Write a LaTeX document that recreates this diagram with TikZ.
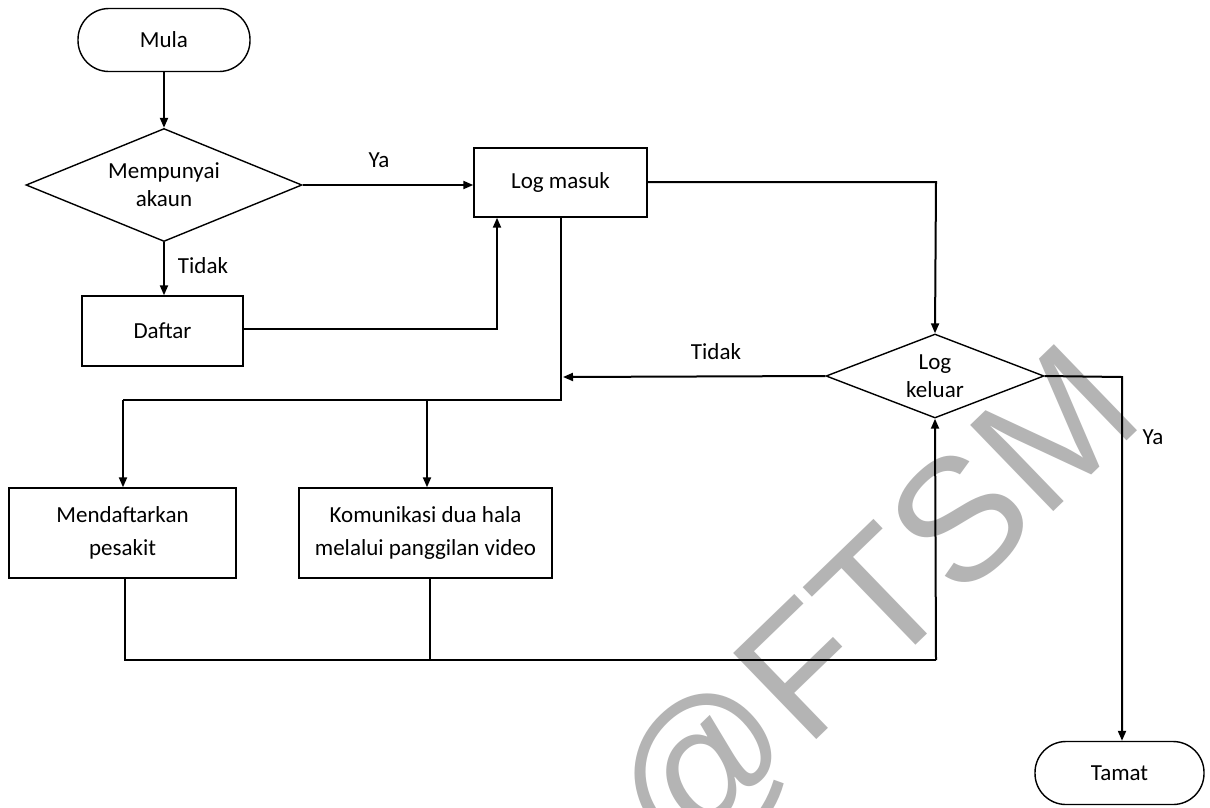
\documentclass[tikz,border=0pt]{standalone}
\usepackage{fontspec}
\setmainfont{Carlito}
\newfontfamily\wmfont{Liberation Sans}
\usetikzlibrary{shapes.geometric,arrows.meta}
\definecolor{wmgray}{RGB}{180,180,180}
\begin{document}
\begin{tikzpicture}[x=1pt,y=-1pt,
  every node/.style={font=\fontsize{23}{28}\selectfont},
  term/.style={draw,line width=1.4pt,rounded corners=31pt,minimum width=#1,minimum height=63pt,inner sep=0pt},
  procbox/.style={draw,line width=1.4pt,inner sep=0pt,align=center,font=\fontsize{23}{33}\selectfont},
  decision/.style={draw,diamond,line width=1.4pt,inner sep=0pt,align=center,aspect=2.5},
  conn/.style={line width=2pt},
  arr/.style={conn,-{Triangle[length=10pt,width=8pt]}},
  lbl/.style={inner sep=0pt}
]
\useasboundingbox (0,0) rectangle (1210,807);
\fill[white] (0,0) rectangle (1210,807);
% watermark
\node[rotate=44,text=wmgray,inner sep=0pt,font=\wmfont\fontsize{174}{174}\selectfont] (wm) at (878,610) {@FTSM};

% nodes
\node[term=172pt] (mula) at (164,40) {Mula};
\node[decision,minimum width=276pt,minimum height=113pt] (dia1) at (164,185) {Mempunyai\\akaun};
\node[procbox,minimum width=173pt,minimum height=69pt] (login) at (560.5,182.5) {Log masuk};
\node[procbox,minimum width=161pt,minimum height=70pt] (daftar) at (162.5,331) {Daftar};
\node[decision,minimum width=218pt,minimum height=84pt] (logout) at (935,376) {Log\\keluar};
\node[procbox,minimum width=227pt,minimum height=90pt] (mend) at (122.5,533) {Mendaftarkan\\pesakit};
\node[procbox,minimum width=253pt,minimum height=90pt] (kom) at (425.5,533) {Komunikasi dua hala\\melalui panggilan video};
\node[term=169pt] (tamat) at (1119.5,773) {Tamat};

% labels
\node[lbl] (lya1) at (379,160) {Ya};
\node[lbl] (ltidak1) at (203,266) {Tidak};
\node[lbl] (ltidak2) at (716,352) {Tidak};
\node[lbl] (lya2) at (1153,437) {Ya};

% coordinates
\coordinate (dj) at (497,329);
\coordinate (ls) at (561,400);
\coordinate (lsl) at (123,400);
\coordinate (lsm) at (427,400);
\coordinate (lr) at (936,182);
\coordinate (yr) at (1122,377);
\coordinate (bl) at (125,660);
\coordinate (bm) at (430,660);
\coordinate (br) at (936,660);
\coordinate (tin) at (563,377);

% connectors
\draw[arr] (mula.south) -- (dia1.north);
\draw[arr] (dia1.east) -- (dia1.east -| login.west);
\draw[arr] (dia1.south) -- (dia1.south |- daftar.north);
\draw[arr] (daftar.east |- dj) -- (dj) -- (dj |- login.south);
\draw[conn] (login.south -| ls) -- (ls) -- (lsl);
\draw[arr] (lsl) -- (lsl |- mend.north);
\draw[arr] (lsm) -- (lsm |- kom.north);
\draw[arr] (logout.west) -- (tin);
\draw[arr] (login.east |- lr) -- (lr) -- (logout.north);
\draw[arr] (logout.east) -- (yr) -- (yr |- tamat.north);
\draw[conn] (mend.south -| bl) -- (bl) -- (br);
\draw[arr] (br) -- (logout.south);
\draw[conn] (kom.south -| bm) -- (bm);
\end{tikzpicture}
\end{document}
